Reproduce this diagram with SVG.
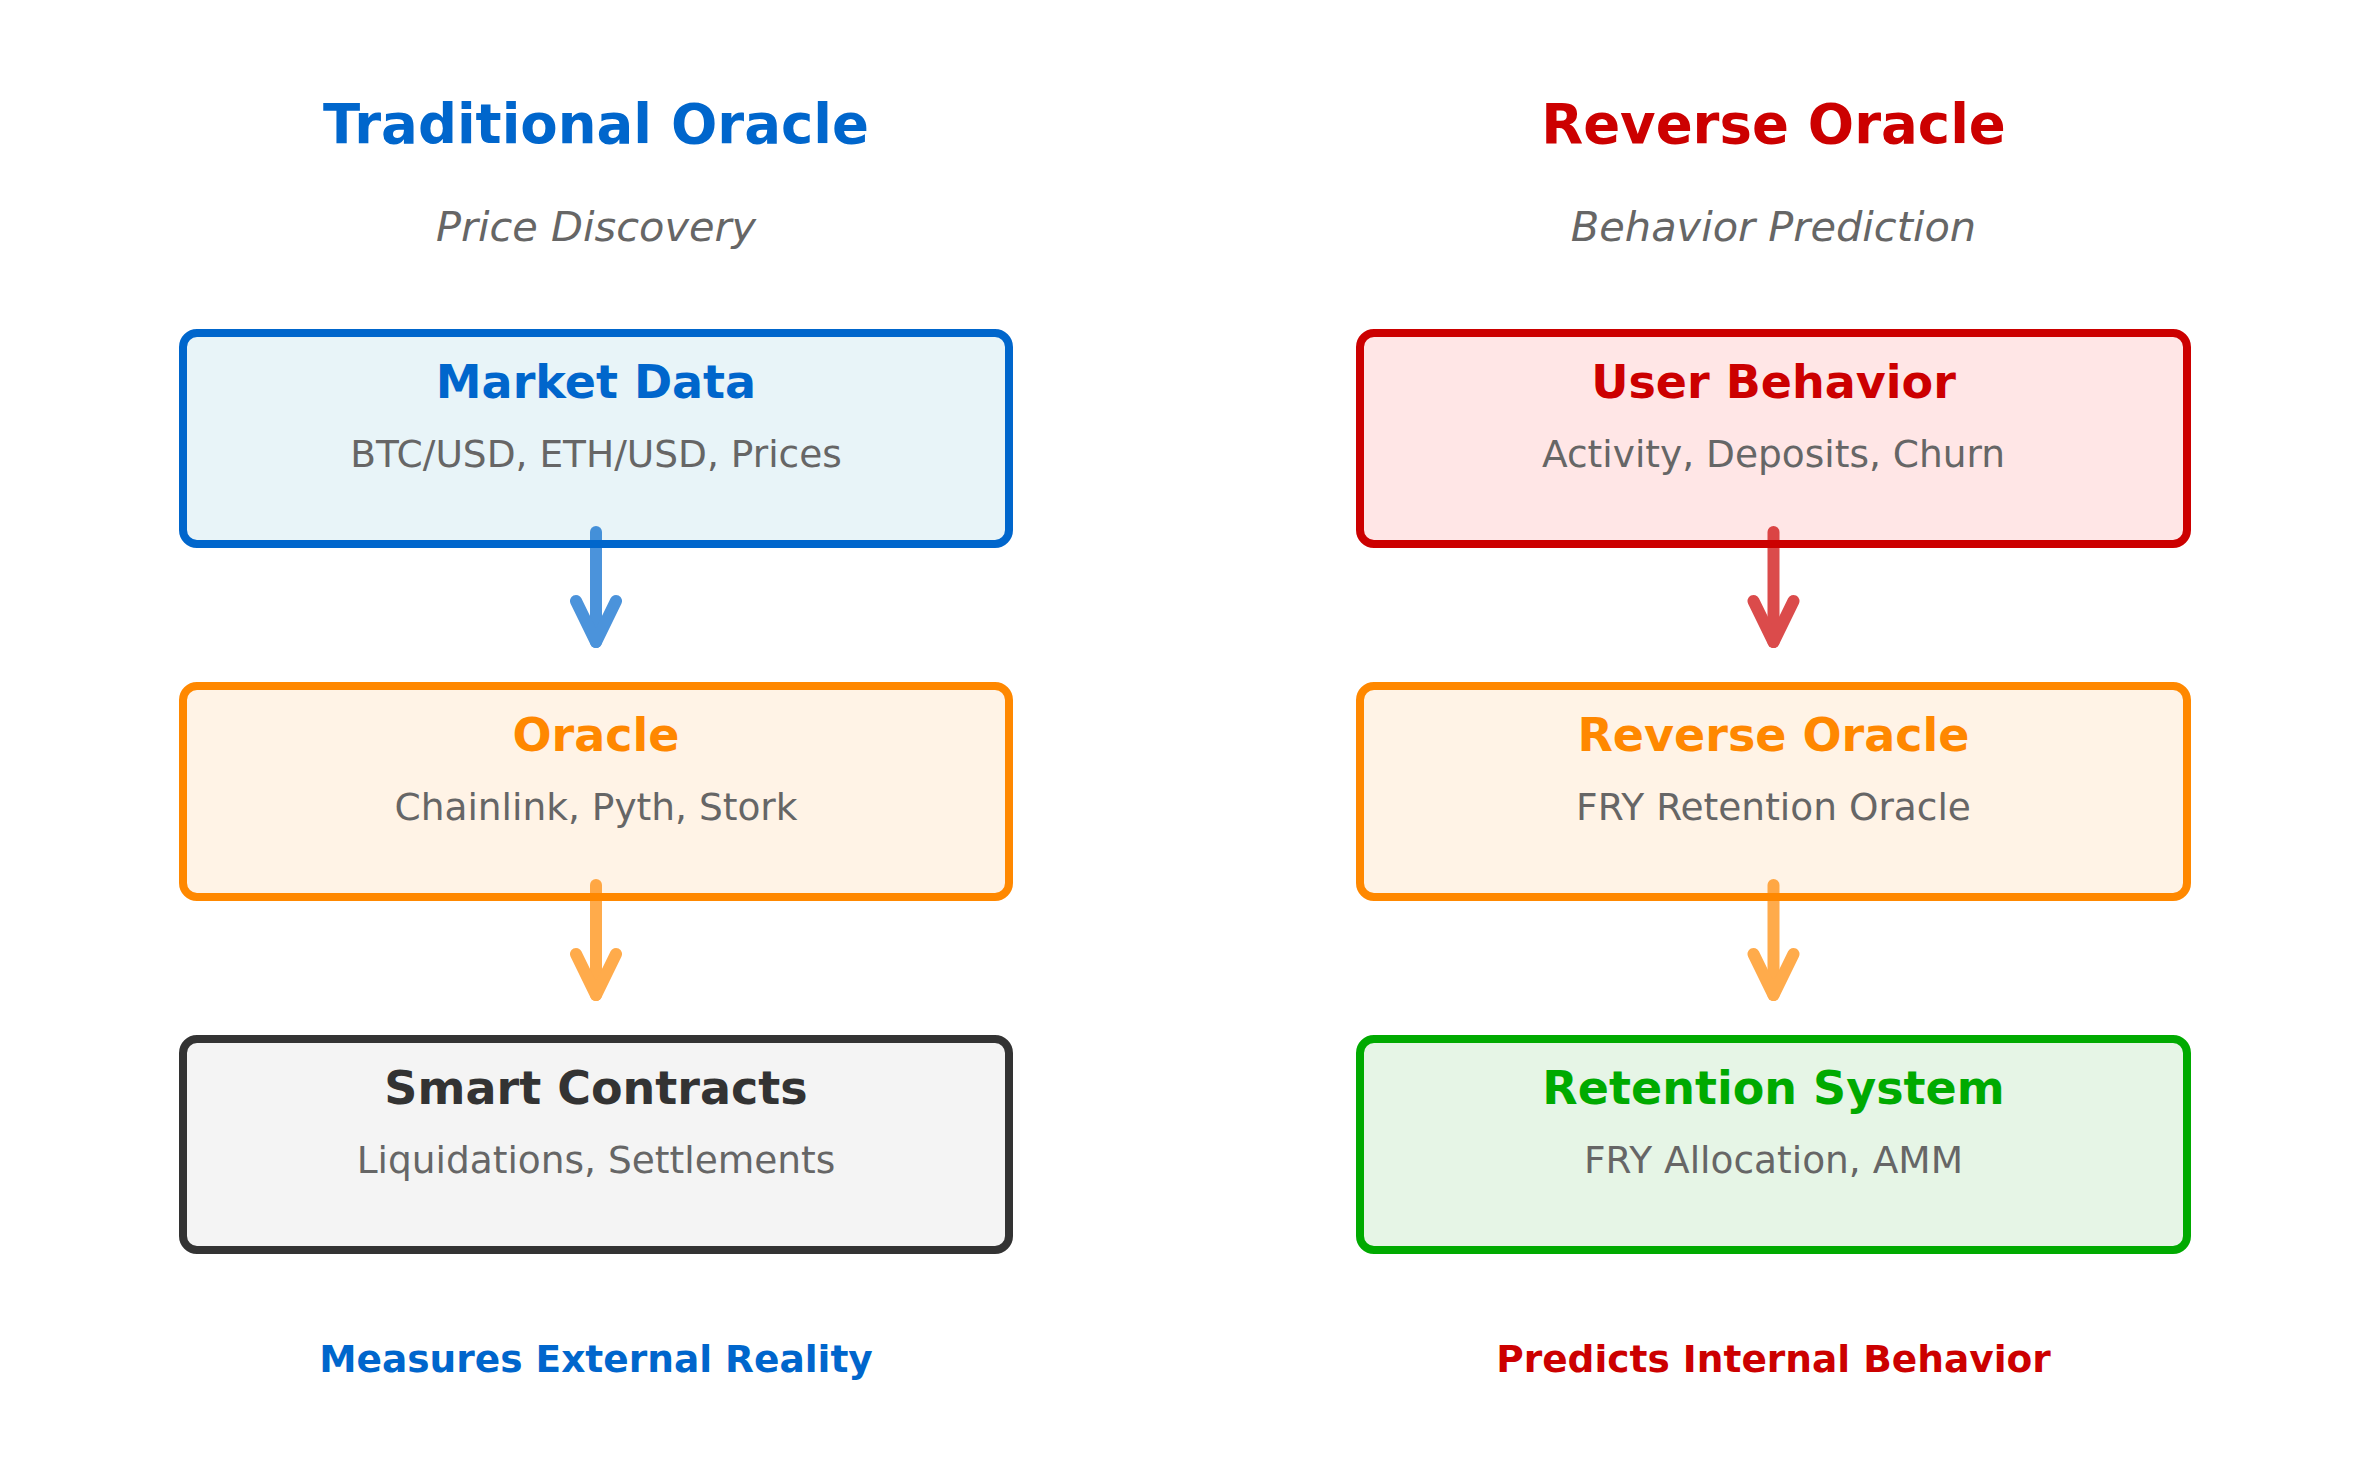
<svg xmlns="http://www.w3.org/2000/svg" width="2370" height="1470" viewBox="0 0 2370 1470">
<defs>
<style>
text{font-family:"DejaVu Sans","Liberation Sans",sans-serif;text-anchor:middle}
.title{font-size:54.5px;font-weight:bold}
.subtitle{font-size:41.5px;font-style:italic;fill:#666666}
.label{font-size:46px;font-weight:bold}
.sub{font-size:37.5px;fill:#666666}
.foot{font-size:37.5px;font-weight:bold}
.box{stroke-width:8}
.arrow{fill:none;stroke-width:12;stroke-linecap:round;stroke-linejoin:round;opacity:0.7}
.blue{fill:#0066cc}.red{fill:#cc0000}.orange{fill:#ff8800}.dark{fill:#333333}.green{fill:#00aa00}
</style>
</defs>
<rect width="2370" height="1470" fill="#ffffff"/>
<g id="headers">
<text class="title blue" x="596" y="143">Traditional Oracle</text>
<text class="subtitle" x="596" y="241">Price Discovery</text>
<text class="title red" x="1773.5" y="143">Reverse Oracle</text>
<text class="subtitle" x="1773.5" y="241">Behavior Prediction</text>
</g>
<g id="market-data">
<rect class="box" x="183" y="333" width="826" height="211" rx="14" fill="#e8f4f8" stroke="#0066cc"/>
<text class="label blue" x="596" y="397.5">Market Data</text>
<text class="sub" x="596" y="467">BTC/USD, ETH/USD, Prices</text>
</g>
<g id="oracle">
<rect class="box" x="183" y="686" width="826" height="211" rx="14" fill="#fff3e6" stroke="#ff8800"/>
<text class="label orange" x="596" y="750.5">Oracle</text>
<text class="sub" x="596" y="820">Chainlink, Pyth, Stork</text>
</g>
<g id="smart-contracts">
<rect class="box" x="183" y="1039" width="826" height="211" rx="14" fill="#f4f4f4" stroke="#333333"/>
<text class="label dark" x="596" y="1103.5">Smart Contracts</text>
<text class="sub" x="596" y="1173">Liquidations, Settlements</text>
</g>
<g id="user-behavior">
<rect class="box" x="1360" y="333" width="827" height="211" rx="14" fill="#ffe6e6" stroke="#cc0000"/>
<text class="label red" x="1773.5" y="397.5">User Behavior</text>
<text class="sub" x="1773.5" y="467">Activity, Deposits, Churn</text>
</g>
<g id="reverse-oracle">
<rect class="box" x="1360" y="686" width="827" height="211" rx="14" fill="#fff3e6" stroke="#ff8800"/>
<text class="label orange" x="1773.5" y="750.5">Reverse Oracle</text>
<text class="sub" x="1773.5" y="820">FRY Retention Oracle</text>
</g>
<g id="retention-system">
<rect class="box" x="1360" y="1039" width="827" height="211" rx="14" fill="#e6f5e6" stroke="#00aa00"/>
<text class="label green" x="1773.5" y="1103.5">Retention System</text>
<text class="sub" x="1773.5" y="1173">FRY Allocation, AMM</text>
</g>
<g id="connectors">
<g class="arrow" stroke="#0066cc">
<path d="M596,532 V642"/><path d="M576,601 L596,642 L616,601"/>
</g>
<g class="arrow" stroke="#ff8800">
<path d="M596,885 V995"/><path d="M576,954 L596,995 L616,954"/>
</g>
<g class="arrow" stroke="#cc0000">
<path d="M1773.5,532 V642"/><path d="M1753.5,601 L1773.5,642 L1793.5,601"/>
</g>
<g class="arrow" stroke="#ff8800">
<path d="M1773.5,885 V995"/><path d="M1753.5,954 L1773.5,995 L1793.5,954"/>
</g>
</g>
<g id="footers">
<text class="foot blue" x="596" y="1371.5">Measures External Reality</text>
<text class="foot red" x="1773.5" y="1371.5">Predicts Internal Behavior</text>
</g>
</svg>
